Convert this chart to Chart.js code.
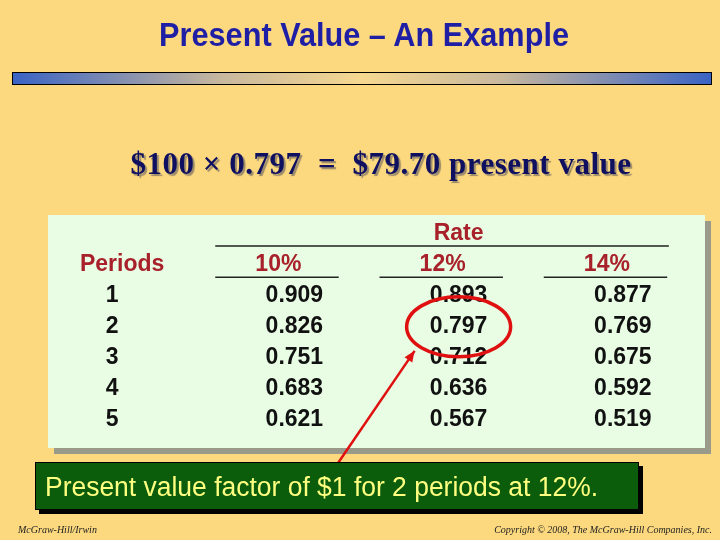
<!DOCTYPE html>
<html><head><meta charset="utf-8">
<script src="https://cdn.jsdelivr.net/npm/chart.js@4"></script>
<style>
body{margin:0;width:720px;height:540px;background:#fcd97e;position:relative;overflow:hidden;font-family:"Liberation Sans",Arial,sans-serif}
#c{position:absolute;left:0;top:0}
.t{position:absolute;white-space:pre}
#title{left:0;width:728px;text-align:center;top:16px;font-size:33px;font-weight:bold;color:#1f1fa6;transform:scaleX(0.93)}
#bar{left:12px;top:72px;width:698px;height:11px;border:1px solid #000;background:linear-gradient(90deg,#3a63c4,#c8b89e 30%,#f6d890 50%,#c8b89e 70%,#3a63c4)}
#formula{left:0;width:762px;text-align:center;top:146px;font-family:"Liberation Serif",serif;font-weight:bold;font-size:31px;letter-spacing:0.5px;color:#101060;text-shadow:2px 2px 1px #9a8a6a}
#box{left:35px;top:462px;width:602px;height:46px;background:#0b5c0b;border:1px solid #000;box-shadow:4px 4px 0 #000}
#boxt{left:45px;top:472px;font-size:27px;color:#ffff80;transform-origin:left;transform:scaleX(0.98)}
.f{top:524px;font-family:"Liberation Serif",serif;font-style:italic;font-size:10px;color:#222}
</style></head><body>
<canvas id="c" width="720" height="540"></canvas>
<div class="t" id="title">Present Value – An Example</div>
<div class="t" id="bar"></div>
<div class="t" id="formula">$100 × 0.797  =  $79.70 present value</div>
<div class="t" id="box"></div>
<div class="t" id="boxt">Present value factor of $1 for 2 periods at 12%.</div>
<div class="t f" style="left:18px">McGraw-Hill/Irwin</div>
<div class="t f" style="right:8px">Copyright © 2008, The McGraw-Hill Companies, Inc.</div>
<script>
const periods = ['1','2','3','4','5'];
const rateHeaders = ['10%','12%','14%'];
const rate10 = [0.909,0.826,0.751,0.683,0.621];
const rate12 = [0.893,0.797,0.712,0.636,0.567];
const rate14 = [0.877,0.769,0.675,0.592,0.519];
const series = [rate10, rate12, rate14];
const highlight = {col:1,row:1};

const tablePlugin = {
  id:'table',
  beforeDraw(ch){
    const a=ch.chartArea, c=ch.ctx;
    c.save();
    c.fillStyle='#9a9a8a'; c.fillRect(a.left+6,a.top+6,a.right-a.left,a.bottom-a.top);
    c.fillStyle='#e8fde4'; c.fillRect(a.left,a.top,a.right-a.left,a.bottom-a.top);
    c.restore();
  },
  afterDraw(ch){
    const c=ch.ctx, X=ch.scales.x, Y=ch.scales.y;
    c.save();
    c.textAlign='center'; c.textBaseline='middle';
    c.font='bold 23px "Liberation Sans", Arial';
    c.fillStyle='#a8202a';
    c.fillText('Rate', X.getPixelForValue(2.5), Y.getPixelForValue(-1));
    c.fillText('Periods', X.getPixelForValue(0.5)-8, Y.getPixelForValue(0));
    rateHeaders.forEach((h,i)=>c.fillText(h, X.getPixelForValue(i+1.5)-16, Y.getPixelForValue(0)));
    c.strokeStyle='#222'; c.lineWidth=1.5;
    const ly=Y.getPixelForValue(-0.6);
    c.beginPath(); c.moveTo(X.getPixelForValue(1)+3,ly); c.lineTo(X.getPixelForValue(3.78),ly); c.stroke();
    const hy=Y.getPixelForValue(0.4);
    for(let i=0;i<3;i++){c.beginPath();c.moveTo(X.getPixelForValue(i+1)+3,hy);c.lineTo(X.getPixelForValue(i+1.77),hy);c.stroke();}
    c.fillStyle='#111';
    periods.forEach((p,r)=>c.fillText(p, X.getPixelForValue(0.5)-18, Y.getPixelForValue(r+1)));
    series.forEach((s,i)=>s.forEach((v,r)=>c.fillText(v.toFixed(3), X.getPixelForValue(i+1.5), Y.getPixelForValue(r+1))));
    const ex=X.getPixelForValue(highlight.col+1.5), ey=Y.getPixelForValue(highlight.row+1);
    c.strokeStyle='#e01010'; c.lineWidth=3.5;
    c.beginPath(); c.ellipse(ex,ey,52,30,0,0,Math.PI*2); c.stroke();
    const sx=336, sy=466, tx=ex-44, ty=ey+24;
    c.lineWidth=2.5; c.beginPath(); c.moveTo(sx,sy); c.lineTo(tx,ty); c.stroke();
    const ang=Math.atan2(ty-sy,tx-sx);
    c.fillStyle='#e01010'; c.beginPath(); c.moveTo(tx,ty);
    c.lineTo(tx-12*Math.cos(ang-0.4),ty-12*Math.sin(ang-0.4));
    c.lineTo(tx-12*Math.cos(ang+0.4),ty-12*Math.sin(ang+0.4)); c.fill();
    c.restore();
  }
};
new Chart(document.getElementById('c'),{
  type:'scatter',
  data:{datasets:[]},
  options:{responsive:false,animation:false,
    layout:{padding:{left:48,top:215,right:15,bottom:92}},
    plugins:{legend:{display:false},tooltip:{enabled:false}},
    scales:{
      x:{type:'linear',min:0,max:4,display:false},
      y:{type:'linear',min:-1.6,max:5.9,reverse:true,display:false}
    }},
  plugins:[tablePlugin]
});
</script></body></html>
